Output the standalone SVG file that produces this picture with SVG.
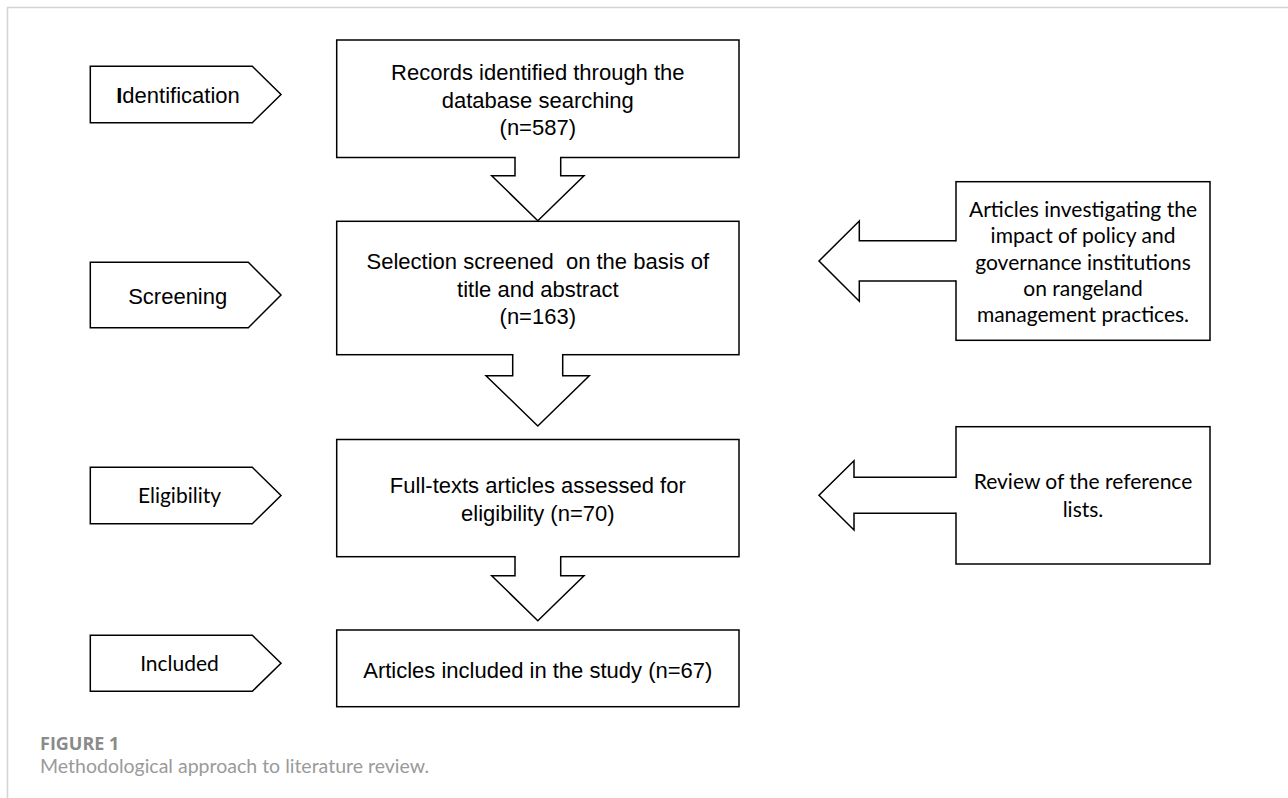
<svg xmlns="http://www.w3.org/2000/svg" width="1288" height="798" viewBox="0 0 1288 798">
<style>
  .shape { fill: #ffffff; stroke: #000000; stroke-width: 1.5; }
  .fillonly { fill: #ffffff; stroke: none; }
  .outline { fill: none; stroke: #000000; stroke-width: 1.5; stroke-linejoin: miter; }
  .arial { font-family: "Liberation Sans", Arial, sans-serif; font-size: 22px; fill: #000000; text-anchor: middle; }
  .cal { font-family: Lato, "Open Sans", sans-serif; font-size: 21px; fill: #000000; text-anchor: middle; }
  .frame { stroke: #d4d4d4; stroke-width: 1.5; fill: none; }
  .figlabel { font-family: "Open Sans", Lato, sans-serif; font-size: 18px; font-weight: bold; fill: #8a8a8a; }
  .caption { font-family: Lato, "Open Sans", sans-serif; font-size: 19.5px; fill: #9a9a9a; }
</style>
<rect x="0" y="0" width="1288" height="798" fill="#ffffff"/>
<path class="frame" d="M7.5,798 L7.5,7.5 L1288,7.5"/>

<g id="stage-identification">
  <polygon class="shape" points="90.3,66.3 252.3,66.3 281,94.5 252.3,122.7 90.3,122.7"/>
  <text class="arial" x="178" y="102.7"><tspan font-weight="bold">I</tspan>dentification</text>
</g>
<g id="stage-screening">
  <polygon class="shape" points="90.3,262.3 248.3,262.3 281,295 248.3,327.7 90.3,327.7"/>
  <text class="arial" x="177.7" y="304">Screening</text>
</g>
<g id="stage-eligibility">
  <polygon class="shape" points="90.3,467.3 252.3,467.3 281,495.5 252.3,523.7 90.3,523.7"/>
  <text class="cal" x="179.5" y="503" font-size="22">Eligibility</text>
</g>
<g id="stage-included">
  <polygon class="shape" points="90.3,635.3 252.3,635.3 281,663.3 252.3,691.3 90.3,691.3"/>
  <text class="cal" x="179.5" y="671.3" font-size="22">Included</text>
</g>

<g id="box-records">
  <rect class="shape" x="336.7" y="40" width="402.3" height="117.5"/>
  <text class="arial" x="537.8" y="80">Records identified through the</text>
  <text class="arial" x="537.8" y="107.5">database searching</text>
  <text class="arial" x="537.8" y="135">(n=587)</text>
</g>
<g id="box-selection">
  <rect class="shape" x="336.7" y="221.3" width="402.3" height="133.4"/>
  <text class="arial" x="537.8" y="269" xml:space="preserve">Selection screened  on the basis of</text>
  <text class="arial" x="537.8" y="296.7">title and abstract</text>
  <text class="arial" x="537.8" y="324">(n=163)</text>
</g>
<g id="box-fulltext">
  <rect class="shape" x="336.7" y="439.5" width="402.3" height="117.2"/>
  <text class="arial" x="537.8" y="493.3">Full-texts articles assessed for</text>
  <text class="arial" x="537.8" y="520.7">eligibility (n=70)</text>
</g>
<g id="box-included">
  <rect class="shape" x="336.7" y="630" width="402.3" height="76.7"/>
  <text class="arial" x="537.8" y="678.3">Articles included in the study (n=67)</text>
</g>
<g id="box-criteria">
  <rect class="shape" x="956" y="181.7" width="254" height="158.6"/>
  <text class="cal" x="1083" y="216.7">Articles investigating the</text>
  <text class="cal" x="1083" y="243.1">impact of policy and</text>
  <text class="cal" x="1083" y="269.5">governance institutions</text>
  <text class="cal" x="1083" y="295.9">on rangeland</text>
  <text class="cal" x="1083" y="322.3">management practices.</text>
</g>
<g id="box-reference">
  <rect class="shape" x="956" y="426.7" width="254" height="137.3"/>
  <text class="cal" x="1083" y="489.3">Review of the reference</text>
  <text class="cal" x="1083" y="516.7">lists.</text>
</g>

<g id="connectors">
  <polygon class="fillonly" points="515.8,155 559.9,155 560.7,175.7 584,175.7 537.8,220.7 491.7,175.7 515,175.7"/>
  <polyline class="outline" points="515,157.5 515,175.7 491.7,175.7 537.8,220.7 584,175.7 560.7,175.7 560.7,157.5"/>
  <polygon class="fillonly" points="513.5,352 561.9,352 562.7,375.7 589.3,375.7 537.8,426 486,375.7 512.7,375.7"/>
  <polyline class="outline" points="512.7,354.7 512.7,375.7 486,375.7 537.8,426 589.3,375.7 562.7,375.7 562.7,354.7"/>
  <polygon class="fillonly" points="515.8,554 559.9,554 560.7,575.7 584,575.7 537.8,620.7 491.7,575.7 515,575.7"/>
  <polyline class="outline" points="515,556.7 515,575.7 491.7,575.7 537.8,620.7 584,575.7 560.7,575.7 560.7,556.7"/>
  <polygon class="fillonly" points="958.5,241.5 958.5,280.2 859.3,281 859.3,301.3 819,261 859.3,221 859.3,240.7"/>
  <polyline class="outline" points="956,240.7 859.3,240.7 859.3,221 819,261 859.3,301.3 859.3,281 956,281"/>
  <polygon class="fillonly" points="958.5,478 958.5,512.5 854,513.3 854,530 819,495.3 854,460.7 854,477.3"/>
  <polyline class="outline" points="956,477.3 854,477.3 854,460.7 819,495.3 854,530 854,513.3 956,513.3"/>
</g>

<text class="figlabel" x="40" y="750.3">FIGURE 1</text>
<text class="caption" x="40" y="773">Methodological approach to literature review.</text>
</svg>
